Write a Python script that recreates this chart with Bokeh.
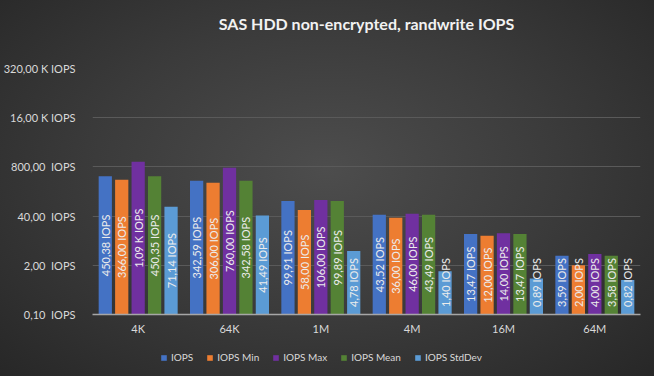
import math
from bokeh.plotting import figure
from bokeh.layouts import column
from bokeh.models import (ColumnDataSource, FactorRange, Range1d, FixedTicker,
                          CustomJSTickFormatter, Legend, LegendItem, Label)
from bokeh.transform import dodge
from bokeh.core.properties import value
from bokeh.embed import file_html
from bokeh.resources import INLINE

title_text = "SAS HDD non-encrypted, randwrite IOPS"
categories = ["4K", "64K", "1M", "4M", "16M", "64M"]
series_names = ["IOPS", "IOPS Min", "IOPS Max", "IOPS Mean", "IOPS StdDev"]
iops = [450.38, 342.59, 99.91, 43.52, 13.47, 3.59]
iops_min = [366.00, 306.00, 58.00, 36.00, 12.00, 2.00]
iops_max = [1090.00, 760.00, 106.00, 46.00, 14.00, 4.00]
iops_mean = [450.35, 342.58, 99.89, 43.49, 13.47, 3.58]
iops_std = [71.14, 41.49, 4.78, 1.40, 0.89, 0.82]
y_ticks = [0.1, 2, 40, 800, 16000, 320000]

series_values = [iops, iops_min, iops_max, iops_mean, iops_std]
colors = ["#4472C4", "#ED7D31", "#7030A0", "#548235", "#5B9BD5"]
offsets = [-0.36, -0.18, 0.0, 0.18, 0.36]
FONT = "Lato"
BASE = 0.1


def fmt(v):
    if v >= 1000:
        return ("%.2f" % (v / 1000)).replace(".", ",") + " K IOPS"
    return ("%.2f" % v).replace(".", ",") + " IOPS"


def strip(h):
    f = figure(width=654, height=h, x_range=(0, 1), y_range=(0, 1),
               output_backend="svg", toolbar_location=None, min_border=0)
    f.axis.visible = False
    f.grid.visible = False
    f.background_fill_alpha = 0
    f.border_fill_alpha = 0
    f.outline_line_color = None
    return f


# title strip
tt = strip(46)
tt.add_layout(Label(x=0.5, y=0.5, text=title_text, text_align="center",
                    text_baseline="middle", text_font=FONT,
                    text_font_size="16px", text_font_style="bold",
                    text_color="#f2f2f2"))

p = figure(width=654, height=296, x_range=FactorRange(*categories),
           y_range=Range1d(BASE, 320000), y_axis_type="log",
           output_backend="svg", toolbar_location=None,
           min_border_left=88, min_border_right=14, min_border_top=22,
           min_border_bottom=28)
p.background_fill_alpha = 0
p.border_fill_alpha = 0
p.outline_line_color = None

for name, vals, col, off in zip(series_names, series_values, colors, offsets):
    src = ColumnDataSource(dict(
        cat=categories, val=vals,
        ly=[max(math.sqrt(BASE * v), 0.7) for v in vals],
        lbl=[fmt(v) for v in vals]))
    p.vbar(x=dodge("cat", off, range=p.x_range), top="val", bottom=BASE,
           width=0.145, fill_color=col, line_color=None, source=src)
    p.text(x=dodge("cat", off, range=p.x_range), y="ly", text="lbl",
           angle=math.pi / 2, text_align="center", text_baseline="middle",
           text_font=value(FONT), text_font_size="11px", text_color="#ececec",
           source=src)

p.yaxis.ticker = FixedTicker(ticks=y_ticks)
p.yaxis.formatter = CustomJSTickFormatter(code="""
if (tick >= 1000) { return (tick/1000).toFixed(2).replace('.', ',') + ' K IOPS'; }
return tick.toFixed(2).replace('.', ',') + '\\u00a0\\u00a0IOPS';
""")
p.yaxis.axis_line_color = None
p.yaxis.major_tick_line_color = None
p.yaxis.minor_tick_line_color = None
p.yaxis.major_label_standoff = 11
p.yaxis.major_label_text_color = "#d9d9d9"
p.yaxis.major_label_text_font = FONT
p.yaxis.major_label_text_font_size = "11px"

p.xaxis.axis_line_color = "#a6a6a6"
p.xaxis.axis_line_width = 1.5
p.xaxis.major_tick_line_color = None
p.xaxis.minor_tick_line_color = None
p.xaxis.major_label_standoff = 1
p.xaxis.major_label_text_color = "#d9d9d9"
p.xaxis.major_label_text_font = FONT
p.xaxis.major_label_text_font_size = "11px"

p.xgrid.grid_line_color = None
p.ygrid.grid_line_color = "#5a5a5a"
p.ygrid.grid_line_width = 1

# legend strip (legend swatches use off-screen dummy glyphs)
lg = strip(34)
items = []
for name, col in zip(series_names, colors):
    r = lg.vbar(x=[-10], top=[-10], bottom=[-11], width=0.1,
                fill_color=col, line_color=None)
    items.append(LegendItem(label=name, renderers=[r]))
legend = Legend(items=items, orientation="horizontal", location=(68, 13))
legend.background_fill_alpha = 0
legend.border_line_color = None
legend.label_text_color = "#d9d9d9"
legend.label_text_font = FONT
legend.label_text_font_size = "10px"
legend.glyph_width = 7
legend.glyph_height = 7
legend.label_standoff = 4
legend.spacing = 13
legend.padding = 2
legend.margin = 0
lg.add_layout(legend, "center")

layout = column(tt, p, lg, spacing=0,
                styles={"background": "radial-gradient(ellipse at 50% 45%, #4d4d4d 0%, #3b3b3b 50%, #272727 100%)"})

open("out.html", "w").write(file_html(layout, INLINE))
